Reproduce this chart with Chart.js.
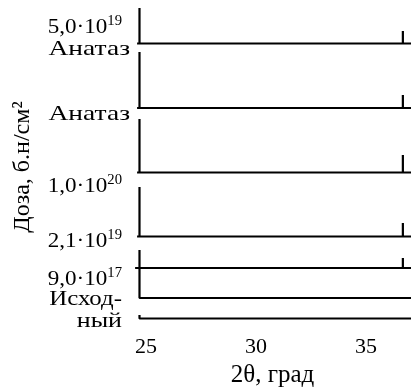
<!DOCTYPE html>
<html>
<head>
<meta charset="utf-8">
<script src="https://cdn.jsdelivr.net/npm/chart.js@4/dist/chart.umd.min.js"></script>
<style>
  html, body { margin: 0; padding: 0; background: #fff; }
  #wrap { width: 414px; height: 390px; }
</style>
</head>
<body>
<div id="wrap"><canvas id="c"></canvas></div>
<script>
// 2θ positions of the two anatase reflections
const reflections = [24.70, 36.68];
// Stacked diffractograms, top to bottom: offset baseline and apex of each reflection
const baselines  = [283.5, 219, 154.5, 90.5, 59, 29, 8.5];
const apexLow    = [319, 275, 208, 140, 77, 59, 12];
const apexHigh   = [296, 232, 172, 104, 69, null, null];
const scanStart  = [24.59, 24.59, 24.59, 24.59, 24.50, 24.70, 24.70];
const scanEnd    = 37.05;

// Left-hand captions: [main text, exponent]
const captions = [
  ['5,0·10', '19'],
  ['Анатаз', ''],
  ['Анатаз', ''],
  ['1,0·10', '20'],
  ['2,1·10', '19'],
  ['9,0·10', '17'],
  ['Исход-', ''],
  ['ный', '']
];
const xTicks = [25, 30, 35];

// caption placement: baseline (intensity units), right edge (px), horizontal stretch
const captionY       = [294, 272, 207, 135, 80, 42, 22, 0];
const captionRight   = [122, 130, 130, 122, 122, 122, 122, 122];
const captionStretch = [1.05, 1.25, 1.25, 1.05, 1.05, 1.05, 1.13, 1.18];

const FONT = "'Liberation Serif', 'Times New Roman', serif";

function buildTrace(i) {
  const b = baselines[i];
  const pts = [{x: scanStart[i], y: b}];
  const tops = [apexLow[i], apexHigh[i]];
  reflections.forEach((pos, k) => {
    if (tops[k] === null) return;
    pts.push({x: pos, y: b}, {x: pos, y: tops[k]}, {x: pos, y: b});
  });
  pts.push({x: scanEnd, y: b});
  return pts;
}

const datasets = baselines.map((_, i) => ({
  data: buildTrace(i),
  borderColor: '#000',
  borderWidth: 2.2,
  pointRadius: 0,
  tension: 0,
  fill: false,
  borderJoinStyle: 'bevel',
  borderCapStyle: 'butt'
}));

const captionPlugin = {
  id: 'captions',
  afterDraw(chart) {
    const {ctx, scales: {y}} = chart;
    ctx.save();
    ctx.fillStyle = '#000';
    ctx.textBaseline = 'alphabetic';
    ctx.textAlign = 'left';
    captions.forEach(([main, sup], i) => {
      const py = y.getPixelForValue(captionY[i]);
      const s = captionStretch[i];
      ctx.font = `22px ${FONT}`;
      const wMain = ctx.measureText(main).width;
      ctx.font = `14px ${FONT}`;
      const wSup = sup ? ctx.measureText(sup).width : 0;
      const x0 = captionRight[i] - (wMain + wSup) * s;
      ctx.save();
      ctx.translate(x0, py);
      ctx.scale(s, 1);
      ctx.font = `22px ${FONT}`;
      ctx.fillText(main, 0, 0);
      if (sup) {
        ctx.font = `14px ${FONT}`;
        ctx.fillText(sup, wMain, -8);
      }
      ctx.restore();
    });
    ctx.restore();
  }
};

new Chart(document.getElementById('c'), {
  type: 'line',
  data: { datasets },
  plugins: [captionPlugin],
  options: {
    responsive: true,
    maintainAspectRatio: false,
    animation: false,
    layout: { padding: { top: 7, right: 3, left: 0, bottom: 0 } },
    plugins: { legend: { display: false }, tooltip: { enabled: false } },
    scales: {
      x: {
        type: 'linear',
        min: 24.45,
        max: scanEnd,
        grid: { display: false, drawTicks: false },
        border: { display: false },
        afterBuildTicks(scale) { scale.ticks = xTicks.map(v => ({ value: v })); },
        ticks: { color: '#000', padding: 7, font: { family: FONT, size: 22 } },
        title: {
          display: true,
          text: '2θ, град',
          color: '#000',
          padding: { top: -7.4, bottom: 0 },
          font: { family: FONT, size: 25 }
        }
      },
      y: {
        type: 'linear',
        min: 0,
        max: 320,
        grid: { display: false, drawTicks: false },
        border: { display: false },
        ticks: { display: false },
        afterFit(scale) { scale.width = 134; },
        title: {
          display: true,
          text: 'Доза, б.н/см²',
          color: '#000',
          padding: { top: 8, bottom: 0 },
          font: { family: FONT, size: 24 }
        }
      }
    }
  }
});
</script>
</body>
</html>
